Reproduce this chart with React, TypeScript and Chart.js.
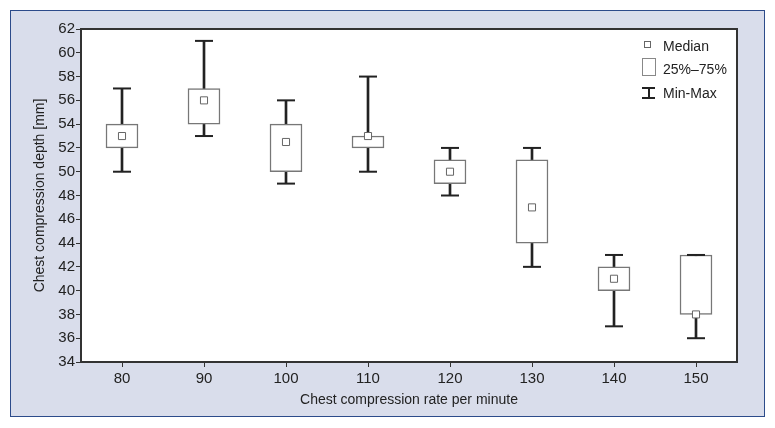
import { useEffect, useRef } from "react";
import { Chart, registerables } from "chart.js";

Chart.register(...registerables);

// compression rate categories and depth stats (mm)
const rates = ["80", "90", "100", "110", "120", "130", "140", "150"];
const minVals = [50, 53, 49, 50, 48, 42, 37, 36];
const q1Vals = [52, 54, 50, 52, 49, 44, 40, 38];
const medianVals = [53, 56, 52.5, 53, 50, 47, 41, 38];
const q3Vals = [54, 57, 54, 53, 51, 51, 42, 43];
const maxVals = [57, 61, 56, 58, 52, 52, 43, 43];

const FONT = "'Liberation Sans', Arial, sans-serif";

const framePlugin = {
  id: "frame",
  beforeDraw(chart: any) {
    const { ctx, chartArea: a } = chart;
    ctx.save();
    ctx.fillStyle = "#ffffff";
    ctx.fillRect(a.left, a.top, a.right - a.left, a.bottom - a.top);
    ctx.strokeStyle = "#333333";
    ctx.lineWidth = 2;
    ctx.strokeRect(a.left, a.top, a.right - a.left, a.bottom - a.top);
    ctx.restore();
  },
};

export default function App() {
  const chartRef = useRef<HTMLCanvasElement>(null);

  useEffect(() => {
    if (!chartRef.current) return;
    const chart = new Chart(chartRef.current, {
      type: "bar",
      data: {
        labels: rates,
        datasets: [
          {
            type: "line",
            label: "Median",
            data: medianVals,
            showLine: false,
            pointStyle: "rect",
            pointRadius: 5,
            pointBackgroundColor: "#ffffff",
            pointBorderColor: "#666666",
            pointBorderWidth: 1,
            order: 0,
          },
          {
            type: "line",
            label: "Min",
            data: minVals,
            showLine: false,
            pointStyle: "line",
            pointRadius: 9,
            pointBorderColor: "#222222",
            pointBorderWidth: 2,
            order: 1,
          },
          {
            type: "line",
            label: "Max",
            data: maxVals,
            showLine: false,
            pointStyle: "line",
            pointRadius: 9,
            pointBorderColor: "#222222",
            pointBorderWidth: 2,
            order: 1,
          },
          {
            type: "bar",
            label: "25%-75%",
            data: rates.map((_, i) => [q1Vals[i], q3Vals[i]]),
            backgroundColor: "#ffffff",
            borderColor: "#777777",
            borderWidth: 1.5,
            borderSkipped: false,
            barThickness: 32,
            grouped: false,
            order: 2,
          } as any,
          {
            type: "bar",
            label: "Min-Max",
            data: rates.map((_, i) => [minVals[i], maxVals[i]]),
            backgroundColor: "#222222",
            borderWidth: 0,
            barThickness: 2,
            grouped: false,
            order: 3,
          } as any,
        ],
      },
      options: {
        animation: false,
        responsive: false,
        layout: { padding: { left: 0, right: 38, top: 29, bottom: 0 } },
        plugins: { legend: { display: false }, tooltip: { enabled: false } },
        scales: {
          x: {
            offset: true,
            grid: { display: true, offset: false, drawOnChartArea: false, drawTicks: true, tickLength: 5, color: "#333333" },
            border: { display: true, color: "#333333", width: 2 },
            ticks: { color: "#222222", font: { family: FONT, size: 15 }, padding: 3 },
            title: {
              display: true,
              text: "Chest compression rate per minute",
              color: "#222222",
              font: { family: FONT, size: 14 },
              padding: { top: 0, bottom: 19.6 },
            },
            afterFit(scale: any) {
              scale.height = 66;
            },
          },
          y: {
            min: 34,
            max: 62,
            ticks: { stepSize: 2, color: "#222222", font: { family: FONT, size: 15 }, padding: 1 },
            grid: { display: true, drawOnChartArea: false, drawTicks: true, tickLength: 5, color: "#333333" },
            border: { display: true, color: "#333333", width: 2 },
            title: {
              display: true,
              text: "Chest compression depth [mm]",
              color: "#222222",
              font: { family: FONT, size: 14 },
              padding: { top: 31.6, bottom: 0 },
            },
            afterFit(scale: any) {
              scale.width = 81;
            },
          },
        },
      },
      plugins: [framePlugin],
    });
    return () => chart.destroy();
  }, []);

  const legendText: React.CSSProperties = {
    position: "absolute",
    left: 663,
    fontFamily: FONT,
    fontSize: 14,
    color: "#222",
    lineHeight: "16px",
    whiteSpace: "nowrap",
  };

  return (
    <div style={{ position: "absolute", left: 0, top: 0, width: 775, height: 428, background: "#ffffff" }}>
      <div
        style={{
          position: "absolute",
          left: 10,
          top: 10,
          width: 755,
          height: 407,
          boxSizing: "border-box",
          border: "1.5px solid #2c4b8a",
          background: "#d9ddeb",
        }}
      />
      <canvas ref={chartRef} width={775} height={428} style={{ position: "absolute", left: 0, top: 0, width: 775, height: 428 }} />
      {/* legend */}
      <div style={{ position: "absolute", left: 644, top: 41, width: 5, height: 5, border: "1px solid #666", background: "#fff" }} />
      <div style={{ ...legendText, top: 38 }}>Median</div>
      <div style={{ position: "absolute", left: 642, top: 58, width: 12, height: 16, border: "1px solid #888", background: "#fff" }} />
      <div style={{ ...legendText, top: 61 }}>25%–75%</div>
      <div style={{ position: "absolute", left: 642, top: 87, width: 13, height: 12 }}>
        <div style={{ position: "absolute", left: 0, top: 0, width: 13, height: 2, background: "#222" }} />
        <div style={{ position: "absolute", left: 5.5, top: 0, width: 2, height: 12, background: "#222" }} />
        <div style={{ position: "absolute", left: 0, top: 10, width: 13, height: 2, background: "#222" }} />
      </div>
      <div style={{ ...legendText, top: 85 }}>Min-Max</div>
    </div>
  );
}
